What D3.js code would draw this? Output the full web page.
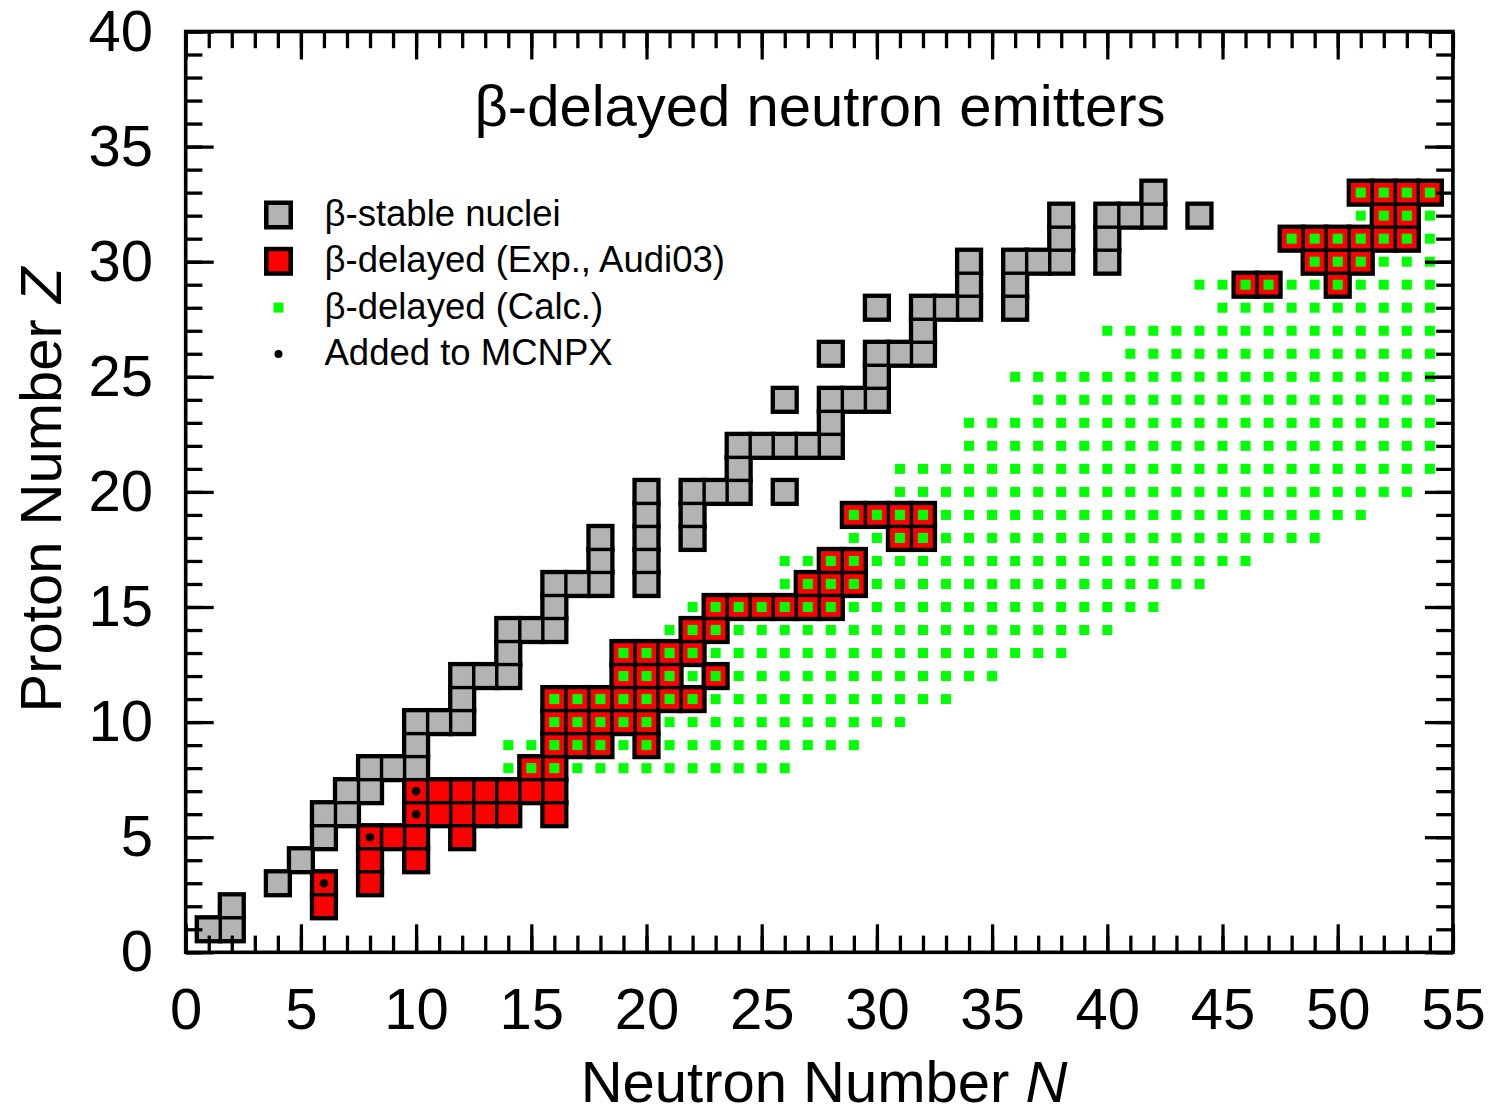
<!DOCTYPE html>
<meta charset="utf-8">
<script src="https://d3js.org/d3.v7.min.js"></script>
<style>
body { margin: 0; background: #fff; }
svg text { font-family: "Liberation Sans", Arial, sans-serif; fill: #000; }
.axis line { stroke: #000; stroke-width: 3.3px; }
.axis path { display: none; }
.axis text { font-size: 58px; }
</style>
<body>
<script>

// beta-stable nuclei: [Z, list of N]
var stableRows = [
  [1, [1, 2]], [2, [2]], [3, [4]], [4, [5]], [5, [6]], [6, [6, 7]],
  [7, [7, 8]], [8, [8, 9, 10]], [9, [10]], [10, [10, 11, 12]], [11, [12]],
  [12, [12, 13, 14]], [13, [14]], [14, [14, 15, 16]], [15, [16]],
  [16, [16, 17, 18, 20]], [17, [18, 20]], [18, [18, 20, 22]], [19, [20, 22]],
  [20, [20, 22, 23, 24, 26]], [21, [24]], [22, [24, 25, 26, 27, 28]], [23, [28]],
  [24, [26, 28, 29, 30]], [25, [30]], [26, [28, 30, 31, 32]], [27, [32]],
  [28, [30, 32, 33, 34, 36]], [29, [34, 36]], [30, [34, 36, 37, 38, 40]],
  [31, [38, 40]], [32, [38, 40, 41, 42, 44]], [33, [42]]
];

// beta-delayed neutron emitters, experimental (Audi03): [Z, list of N]
var expRows = [
  [2, [6]], [3, [6, 8]], [4, [8, 10]], [5, [8, 9, 10, 12]],
  [6, [10, 11, 12, 13, 14, 16]], [7, [10, 11, 12, 13, 14, 15, 16]],
  [8, [15, 16]], [9, [16, 17, 18, 20]], [10, [16, 17, 18, 19, 20]],
  [11, [16, 17, 18, 19, 20, 21, 22]], [12, [19, 20, 21, 23]], [13, [19, 20, 21, 22]],
  [14, [22, 23]], [15, [23, 24, 25, 26, 27, 28]], [16, [27, 28, 29]], [17, [28, 29]],
  [18, [31, 32]], [19, [29, 30, 31, 32]],
  [29, [46, 47, 50]], [30, [49, 50, 51]], [31, [48, 49, 50, 51, 52, 53]],
  [32, [52, 53]], [33, [51, 52, 53, 54]]
];

// beta-delayed neutron emitters, calculated: [Z, first N, last N]
var calcRows = [
  [8, 14, 26], [9, 14, 29], [10, 16, 31], [11, 16, 33], [12, 19, 35],
  [13, 19, 38], [14, 21, 40], [15, 22, 42], [16, 26, 44], [17, 26, 46],
  [18, 29, 49], [19, 29, 51], [20, 31, 53], [21, 31, 54], [22, 34, 54],
  [23, 34, 54], [24, 37, 54], [25, 36, 54], [26, 41, 54], [27, 40, 54],
  [28, 45, 54], [29, 44, 54], [30, 49, 54], [31, 48, 54], [32, 51, 54],
  [33, 51, 54]
];

// added to MCNPX: [N, Z]
var mcnpx = [[6, 3], [8, 5], [10, 6], [10, 7]];

var xTicks = d3.range(0, 56, 5);
var yTicks = d3.range(0, 41, 5);

var legendItems = [
  { label: "\u03b2-stable nuclei", type: "stable" },
  { label: "\u03b2-delayed (Exp., Audi03)", type: "exp" },
  { label: "\u03b2-delayed (Calc.)", type: "calc" },
  { label: "Added to MCNPX", type: "dot" }
];

var stable = [], exp = [], calc = [];
stableRows.forEach(function(r) { r[1].forEach(function(n) { stable.push({N: n, Z: r[0]}); }); });
expRows.forEach(function(r) { r[1].forEach(function(n) { exp.push({N: n, Z: r[0]}); }); });
calcRows.forEach(function(r) {
  for (var n = r[1]; n <= r[2]; n++) calc.push({N: n, Z: r[0]});
});

var W = 1490, H = 1112;
var plotL = 185.7, plotR = 1452.9, plotT = 31.5, plotB = 952.3;

var svg = d3.select("body").append("svg")
  .attr("width", W).attr("height", H);

var x = d3.scaleLinear().domain([0, 55]).range([plotL, plotR]);
var y = d3.scaleLinear().domain([0, 40]).range([plotB, plotT]);

var u = x(1) - x(0);
var outer = u + 5.2, inner = 19.6, greenSize = 10;

var colors = { stable: "#b3b3b3", exp: "#ff0000", calc: "#00ff00" };

// black backgrounds first so neighbours share one border
var cells = stable.map(function(d) { return {N: d.N, Z: d.Z, t: "stable"}; })
  .concat(exp.map(function(d) { return {N: d.N, Z: d.Z, t: "exp"}; }));

svg.append("g").selectAll("rect")
  .data(cells).enter().append("rect")
  .attr("x", function(d) { return x(d.N) - outer / 2; })
  .attr("y", function(d) { return y(d.Z) - outer / 2; })
  .attr("width", outer).attr("height", outer)
  .attr("fill", "#000");

svg.append("g").selectAll("rect")
  .data(cells).enter().append("rect")
  .attr("x", function(d) { return x(d.N) - inner / 2; })
  .attr("y", function(d) { return y(d.Z) - inner / 2; })
  .attr("width", inner).attr("height", inner)
  .attr("fill", function(d) { return colors[d.t]; });

svg.append("g").selectAll("rect")
  .data(calc).enter().append("rect")
  .attr("x", function(d) { return x(d.N) - greenSize / 2; })
  .attr("y", function(d) { return y(d.Z) - greenSize / 2; })
  .attr("width", greenSize).attr("height", greenSize)
  .attr("fill", colors.calc);

svg.append("g").selectAll("circle")
  .data(mcnpx).enter().append("circle")
  .attr("cx", function(d) { return x(d[0]); })
  .attr("cy", function(d) { return y(d[1]); })
  .attr("r", 4.3).attr("fill", "#000");

// axes: ticks inward on all four sides
var minorLen = 16.7, majorLen = 28;

function addAxis(axisFn, scale, tr, len, values, pad, labels) {
  var a = axisFn(scale).tickValues(values).tickSize(-len).tickPadding(pad);
  if (!labels) a.tickFormat("");
  svg.append("g").attr("class", "axis").attr("transform", tr).call(a);
}

var minorX = d3.range(0, 56), minorY = d3.range(0, 41);

addAxis(d3.axisBottom, x, "translate(0," + plotB + ")", minorLen, minorX, 0, false);
addAxis(d3.axisBottom, x, "translate(0," + plotB + ")", majorLen, xTicks, 36, true);
addAxis(d3.axisTop, x, "translate(0," + plotT + ")", minorLen, minorX, 0, false);
addAxis(d3.axisTop, x, "translate(0," + plotT + ")", majorLen, xTicks, 0, false);
addAxis(d3.axisLeft, y, "translate(" + plotL + ",0)", minorLen, minorY, 0, false);
addAxis(d3.axisLeft, y, "translate(" + plotL + ",0)", majorLen, yTicks, 32.7, true);
addAxis(d3.axisRight, y, "translate(" + plotR + ",0)", minorLen, minorY, 0, false);
addAxis(d3.axisRight, y, "translate(" + plotR + ",0)", majorLen, yTicks, 0, false);

svg.selectAll(".axis text").attr("font-size", 58).style("font-size", "58px");

svg.append("rect")
  .attr("x", plotL).attr("y", plotT)
  .attr("width", plotR - plotL).attr("height", plotB - plotT)
  .attr("fill", "none").attr("stroke", "#000").attr("stroke-width", 3.6);

// title
svg.append("text")
  .attr("x", 820).attr("y", 126)
  .attr("text-anchor", "middle")
  .style("font-size", "58px")
  .text("\u03b2-delayed neutron emitters");

// axis titles
var xt = svg.append("text")
  .attr("x", 824).attr("y", 1102)
  .attr("text-anchor", "middle")
  .style("font-size", "58px");
xt.append("tspan").text("Neutron Number ");
xt.append("tspan").style("font-style", "italic").text("N");

var yt = svg.append("text")
  .attr("transform", "translate(61,490) rotate(-90)")
  .attr("text-anchor", "middle")
  .style("font-size", "58px");
yt.append("tspan").text("Proton Number ");
yt.append("tspan").style("font-style", "italic").text("Z");

// legend
var lg = svg.append("g").selectAll("g")
  .data(legendItems).enter().append("g")
  .attr("transform", function(d, i) { return "translate(278.5," + (215 + i * 46.3) + ")"; });

lg.filter(function(d) { return d.type == "stable" || d.type == "exp"; })
  .append("rect")
  .attr("x", -14.5).attr("y", -14.5).attr("width", 29).attr("height", 29)
  .attr("fill", "#000");
lg.filter(function(d) { return d.type == "stable" || d.type == "exp"; })
  .append("rect")
  .attr("x", -10).attr("y", -10).attr("width", 20).attr("height", 20)
  .attr("fill", function(d) { return colors[d.type]; });
lg.filter(function(d) { return d.type == "calc"; })
  .append("rect")
  .attr("x", -5).attr("y", -5).attr("width", 10).attr("height", 10)
  .attr("fill", colors.calc);
lg.filter(function(d) { return d.type == "dot"; })
  .append("circle").attr("r", 4).attr("fill", "#000");

lg.append("text")
  .attr("x", 46).attr("y", 11)
  .style("font-size", "36.5px")
  .text(function(d) { return d.label; });

</script>
</body>
